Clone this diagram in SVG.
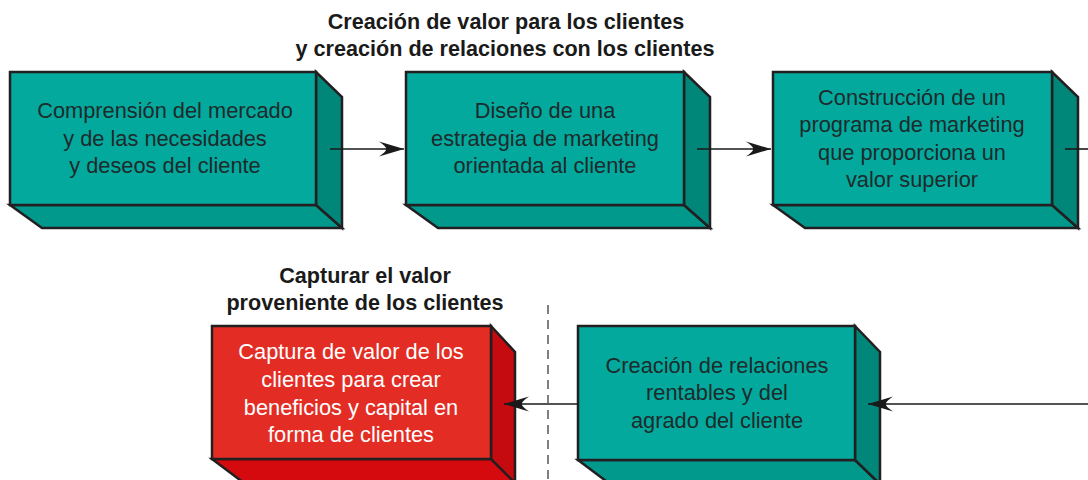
<svg xmlns="http://www.w3.org/2000/svg" width="1088" height="480" viewBox="0 0 1088 480">
<defs>
<style>
.front{fill:#04a99e;stroke:#231f20;stroke-width:2.5;stroke-linejoin:miter}
.side{fill:#00877a;stroke:#231f20;stroke-width:2.5;stroke-linejoin:miter}
.bottom{fill:#00998c;stroke:#231f20;stroke-width:2.5;stroke-linejoin:miter}
.rfront{fill:#e32d24;stroke:#231f20;stroke-width:2.5}
.rside{fill:#c50a10;stroke:#231f20;stroke-width:2.5}
.rbottom{fill:#d40a0f;stroke:#231f20;stroke-width:2.5}
.t{font-family:"Liberation Sans",Arial,sans-serif;font-size:21.8px;fill:#1d2b2b;text-anchor:middle}
.tw{font-family:"Liberation Sans",Arial,sans-serif;font-size:21.8px;fill:#ffffff;text-anchor:middle}
.h{font-family:"Liberation Sans",Arial,sans-serif;font-size:21.6px;font-weight:bold;fill:#1a1a1a;text-anchor:middle}
.c{stroke:#1a1a1a;stroke-width:1.6;fill:none}
</style>
<marker id="ah" viewBox="-26 -8 28 16" refX="0" refY="0" markerWidth="28" markerHeight="16" markerUnits="userSpaceOnUse" orient="auto">
<path d="M0,0 L-25,-7.5 Q-17,-2 -18,0 Q-17,2 -25,7.5 Z" fill="#1a1a1a"/>
</marker>
</defs>
<text class="h" x="506" y="29">Creación de valor para los clientes</text>
<text class="h" x="505" y="56">y creación de relaciones con los clientes</text>
<text class="h" x="365" y="283">Capturar el valor</text>
<text class="h" x="365" y="310">proveniente de los clientes</text>

<g id="node1">
<polygon class="bottom" points="10,205 316,205 342,228 42,228"/>
<polygon class="side" points="316,72 342,97 342,228 316,205"/>
<rect class="front" x="10" y="72" width="306" height="133"/>
<text class="t" x="165" y="118">Comprensión del mercado</text>
<text class="t" x="165" y="146">y de las necesidades</text>
<text class="t" x="165" y="173">y deseos del cliente</text>
</g>

<g id="node2">
<polygon class="bottom" points="406,205 684,205 710,228 438,228"/>
<polygon class="side" points="684,72 710,97 710,228 684,205"/>
<rect class="front" x="406" y="72" width="278" height="133"/>
<text class="t" x="545" y="118">Diseño de una</text>
<text class="t" x="545" y="146">estrategia de marketing</text>
<text class="t" x="545" y="173">orientada al cliente</text>
</g>

<g id="node3">
<polygon class="bottom" points="773,205 1052,205 1078,228 805,228"/>
<polygon class="side" points="1052,72 1078,97 1078,228 1052,205"/>
<rect class="front" x="773" y="72" width="279" height="133"/>
<text class="t" x="912" y="105">Construcción de un</text>
<text class="t" x="912" y="132">programa de marketing</text>
<text class="t" x="912" y="160">que proporciona un</text>
<text class="t" x="912" y="187">valor superior</text>
</g>

<g id="node4">
<polygon class="rbottom" points="212,459 491,459 517,483 244,483"/>
<polygon class="rside" points="491,326 515,352 515,483 491,459"/>
<rect class="rfront" x="212" y="326" width="279" height="133"/>
<text class="tw" x="351" y="359">Captura de valor de los</text>
<text class="tw" x="351" y="387">clientes para crear</text>
<text class="tw" x="351" y="415">beneficios y capital en</text>
<text class="tw" x="351" y="442">forma de clientes</text>
</g>

<g id="node5">
<polygon class="bottom" points="578,460 855,460 880,484 610,484"/>
<polygon class="side" points="855,326 880,352 880,484 855,460"/>
<rect class="front" x="578" y="326" width="277" height="134"/>
<text class="t" x="717" y="373">Creación de relaciones</text>
<text class="t" x="717" y="400">rentables y del</text>
<text class="t" x="717" y="428">agrado del cliente</text>
</g>

<g id="connectors">
<line class="c" x1="330" y1="149" x2="404" y2="149" marker-end="url(#ah)"/>
<line class="c" x1="697" y1="149" x2="771" y2="149" marker-end="url(#ah)"/>
<line class="c" x1="1065" y1="149" x2="1088" y2="149"/>
<line class="c" x1="1088" y1="404" x2="868" y2="404" marker-end="url(#ah)"/>
<line class="c" x1="578" y1="404" x2="504" y2="404" marker-end="url(#ah)"/>
<line x1="548" y1="305" x2="548" y2="480" stroke="#555" stroke-width="1.5" stroke-dasharray="9,6"/>
</g>
</svg>
